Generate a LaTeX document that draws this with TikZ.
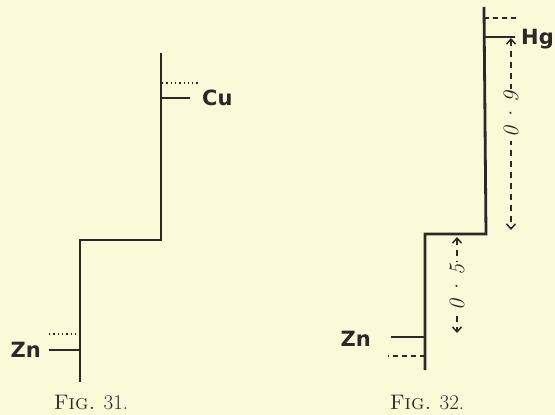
\documentclass[tikz,border=0pt]{standalone}
\usepackage{fontspec}
\newfontfamily\elemfont{DejaVu Sans}
\usetikzlibrary{arrows.meta,positioning}
\definecolor{paper}{HTML}{FBFAD8}
\definecolor{ink}{HTML}{2A2828}

\begin{document}
\begin{tikzpicture}[x=1pt, y=-1pt,
  cell/.style={ink, line width=2.8pt},
  level/.style={ink, line width=2.2pt},
  dotlvl/.style={ink, line width=1.3pt, dash pattern=on 1.3pt off 3pt},
  dashlvl/.style={ink, line width=1.3pt, dash pattern=on 5pt off 4pt},
  elem/.style={font=\elemfont\bfseries\fontsize{21}{25}\selectfont, text=ink, inner sep=0pt},
  gap/.style={ink, line width=1.5pt, dash pattern=on 6pt off 5pt,
              {Straight Barb[length=5pt,width=9pt]}-{Straight Barb[length=5pt,width=9pt]}},
  volt/.style={font=\itshape\fontsize{22}{26}\selectfont, text=ink, rotate=90,
               fill=paper, inner sep=3pt},
  caption/.style={font=\fontsize{21}{25}\selectfont, text=ink, inner sep=0pt}
]
\fill[paper] (0,0) rectangle (555,415);
\useasboundingbox (0,0) rectangle (555,415);

% Fig. 31 -- zinc / copper
\draw[cell] (80,382) -- (80,240) -- (161,240) -- (161,53);
\coordinate (cuStep) at (162,98);
\coordinate (cuEnd)  at (190,98);
\draw[dotlvl] (162,83) -- (199,83);
\draw[level] (cuStep) -- (cuEnd);
\node[elem, right=12pt of cuEnd] (cu) {Cu};
\coordinate (zn1Step) at (80,350);
\coordinate (zn1End)  at (49,350);
\draw[dotlvl] (49,334) -- (80,334);
\draw[level] (zn1Step) -- (zn1End);
\node[elem, left=8pt of zn1End] (zn1) {Zn};
\node[caption] (fig31) at (91,403) {\textsc{Fig.} \oldstylenums{31}.};

% Fig. 32 -- zinc / mercury
\draw[cell] (425,370) -- (425,234) -- (486,234) -- (484,7);
\coordinate (hgStep) at (484,37);
\coordinate (hgEnd)  at (515,37);
\draw[dashlvl] (484,18) -- (518,18);
\draw[level] (hgStep) -- (hgEnd);
\node[elem, right=6pt of hgEnd, yshift=-2pt] (hg) {Hg};
\coordinate (zn2Step) at (425,337);
\coordinate (zn2End)  at (391,337);
\draw[dashlvl] (425,356) -- (388,356);
\draw[level] (zn2Step) -- (zn2End);
\node[elem, left=20pt of zn2End, yshift=-2pt] (zn2) {Zn};

% potential differences
\coordinate (hgTop) at (511,38);
\coordinate (hgBot) at (511,230);
\draw[gap] (hgTop) -- node[volt, pos=0.40] (v9) {0\,·\,9} (hgBot);
\coordinate (znTop) at (457,237);
\coordinate (znBot) at (457,333);
\draw[gap] (znTop) -- node[volt, pos=0.53] (v5) {0\,·\,5} (znBot);
\node[caption] (fig32) at (427,403) {\textsc{Fig.} \oldstylenums{32}.};
\end{tikzpicture}
\end{document}
